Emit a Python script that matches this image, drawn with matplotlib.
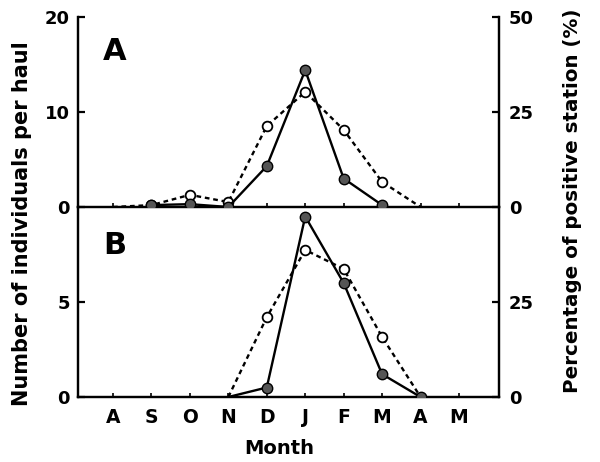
import matplotlib
matplotlib.use("Agg")
import matplotlib.pyplot as plt

plt.rcParams['font.family'] = ['DejaVu Sans']
plt.rcParams['font.weight'] = 'bold'

months = ['A', 'S', 'O', 'N', 'D', 'J', 'F', 'M', 'A', 'M']

# Panel A
a_open_x = [0, 1, 2, 3, 4, 5, 6, 7, 8]
a_open = [0, 0.5, 3.2, 1.3, 21.3, 30.3, 20.3, 6.6, 0]          # % positive stations
a_fill_x = [1, 2, 3, 4, 5, 6, 7]
a_fill = [0.2, 0.3, 0.0, 4.3, 14.4, 3.0, 0.2]                   # individuals per haul

# Panel B
b_x = [3, 4, 5, 6, 7, 8]
b_fill = [0.0, 0.5, 9.5, 6.0, 1.2, 0.0]
b_open = [0.0, 21.0, 38.7, 33.7, 15.8, 0.0]

W, H = 600, 462
fig = plt.figure(figsize=(6, 4.62), dpi=100)

left, right = 78 / W, 499 / W
yA_top, yA_bot, yB_bot = 1 - 17 / H, 1 - 207 / H, 1 - 397 / H
axA = fig.add_axes([left, yA_bot, right - left, yA_top - yA_bot])
axB = fig.add_axes([left, yB_bot, right - left, yA_bot - yB_bot])
axA2 = axA.twinx()
axB2 = axB.twinx()

xlim = (-0.91, 10.04)
lw = 1.6
tick_fs = 13
for ax in (axA, axB, axA2, axB2):
    ax.set_xlim(*xlim)
    ax.patch.set_visible(False)
    ax.spines['top'].set_visible(False)
    for s in ('left', 'right', 'bottom'):
        ax.spines[s].set_linewidth(lw)
    ax.tick_params(direction='in', length=5, width=lw, labelsize=tick_fs)

fill_kw = dict(color='black', lw=1.7, marker='o', ms=7.5, mfc='#555555', mec='black', mew=1.0, zorder=4)
open_kw = dict(color='black', lw=1.7, ls=(0, (2.0, 1.6)), marker='o', ms=7, mfc='white', mec='black', mew=1.3, zorder=3)

# Panel A
axA.set_ylim(0, 20)
axA.set_yticks([0, 10, 20])
axA2.set_ylim(0, 50)
axA2.set_yticks([0, 25, 50])
axA2.plot(a_open_x, a_open, markevery=list(range(1, 8)), **open_kw)
axA.plot(a_fill_x, a_fill, **fill_kw)
axA.set_zorder(axA2.get_zorder() + 1)

# Panel B
axB.set_ylim(0, 10)
axB.set_yticks([0, 5])
axB2.set_ylim(0, 50)
axB2.set_yticks([0, 25])
axB2.plot(b_x, b_open, markevery=[1, 2, 3, 4], **open_kw)
axB.plot(b_x, b_fill, markevery=[1, 2, 3, 4, 5], **fill_kw)
axB.set_zorder(axB2.get_zorder() + 1)

for ax in (axA, axA2, axB, axB2):
    ax.set_xticks(range(len(months)))
    ax.tick_params(axis='x', length=3, width=1.2)
axA.set_xticklabels([])
axA2.set_xticklabels([])
axB2.set_xticklabels([])
axB.set_xticklabels(months)
axB.tick_params(axis='x', pad=8, labelsize=13.5)
for ax in (axA, axB):
    ax.tick_params(axis='y', pad=6)
for ax in (axA2, axB2):
    ax.tick_params(axis='y', pad=7)
axA2.tick_params(axis='x', length=0)
axB2.tick_params(axis='x', length=0)

fig.text(115 / W, 1 - 52 / H, 'A', fontsize=22, fontweight='bold', ha='center', va='center')
fig.text(115 / W, 1 - 245 / H, 'B', fontsize=22, fontweight='bold', ha='center', va='center')

fig.text(22 / W, 1 - 224 / H, 'Number of individuals per haul', rotation=90,
         fontsize=15, fontweight='bold', ha='center', va='center')
fig.text(573 / W, 1 - 201 / H, 'Percentage of positive station (%)', rotation=90,
         fontsize=14.3, fontweight='bold', ha='center', va='center')
fig.text(279 / W, 1 - 449 / H, 'Month', fontsize=14, fontweight='bold', ha='center', va='center')

fig.savefig('out.png', dpi=100)
